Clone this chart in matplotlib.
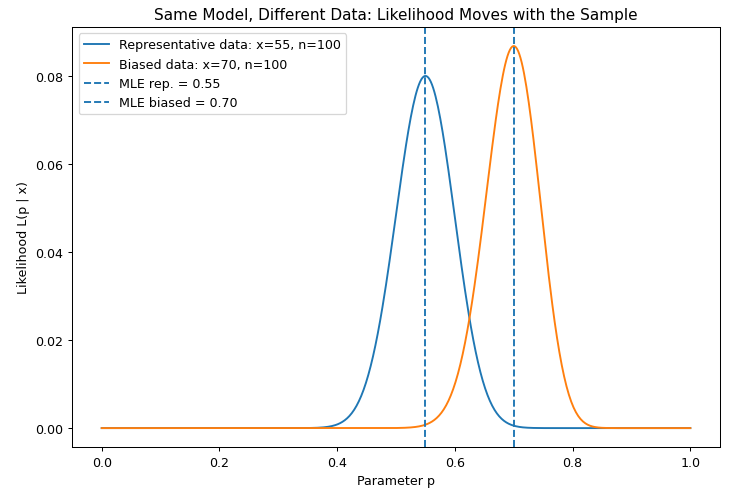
import numpy as np
import matplotlib.pyplot as plt
from math import comb

# observed samples (successes, trials)
n_trials = 100
x_rep = 55
x_biased = 70
mle_rep = 0.55
mle_biased = 0.70

p_grid = np.linspace(0, 1, 500)


def likelihood(x, n, p):
    return comb(n, x) * p ** x * (1 - p) ** (n - x)


fig, ax = plt.subplots(figsize=(8, 5.457), dpi=91.25)

ax.plot(p_grid, likelihood(x_rep, n_trials, p_grid),
        label="Representative data: x=55, n=100")
ax.plot(p_grid, likelihood(x_biased, n_trials, p_grid),
        label="Biased data: x=70, n=100")
ax.axvline(mle_rep, linestyle="--", label="MLE rep. = 0.55")
ax.axvline(mle_biased, linestyle="--", label="MLE biased = 0.70")

ax.set_title("Same Model, Different Data: Likelihood Moves with the Sample")
ax.set_xlabel("Parameter p")
ax.set_ylabel("Likelihood L(p | x)")
ax.legend(loc="upper left")

fig.tight_layout(pad=0.6)
# nudge the axes to match the original margins
fig.subplots_adjust(left=0.099, right=0.986, top=0.944, bottom=0.10)
fig.savefig("out.png")
